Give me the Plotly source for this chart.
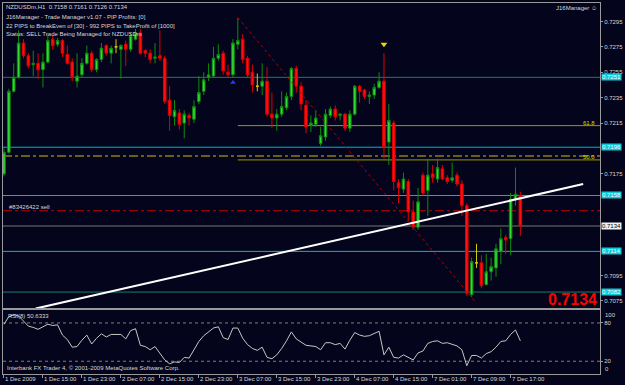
import plotly.graph_objects as go

# ---------------- data (NZDUSDm, H1) ----------------
opens = [0.7175,0.7192,0.7240,0.7251,0.7278,0.7268,0.7261,0.7262,0.7257,0.7263,
         0.7281,0.7277,0.7280,0.7269,0.7263,0.7248,0.7253,0.7262,0.7270,0.7257,
         0.7265,0.7276,0.7270,0.7275,0.7273,0.7277,0.7273,0.7281,0.7286,0.7272,
         0.7270,0.7266,0.7268,0.7266,0.7233,0.7220,0.7223,0.7215,0.7221,0.7218,
         0.7232,0.7240,0.7251,0.7252,0.7266,0.7270,0.7255,0.7253,0.7277,0.7281,
         0.7266,0.7255,0.7244,0.7244,0.7248,0.7222,0.7219,0.7222,0.7227,0.7236,
         0.7258,0.7244,0.7229,0.7213,0.7214,0.7199,0.7204,0.7221,0.7226,0.7221,
         0.7222,0.7211,0.7222,0.7244,0.7241,0.7236,0.7237,0.7243,0.7248,0.7200,
         0.7215,0.7168,0.7163,0.7169,0.7145,0.7133,0.7174,0.7162,0.7175,0.7171,
         0.7179,0.7172,0.7170,0.7174,0.7167,0.7150,0.7080,0.7105,0.7105,0.7088,
         0.7098,0.7101,0.7114,0.7125,0.7124,0.7155,0.7158]
highs = [0.7195,0.7242,0.7262,0.7288,0.7281,0.7270,0.7272,0.7270,0.7270,0.7285,
         0.7284,0.7282,0.7281,0.7276,0.7266,0.7270,0.7266,0.7276,0.7272,0.7266,
         0.7278,0.7277,0.7276,0.7281,0.7277,0.7280,0.7286,0.7289,0.7289,0.7273,
         0.7273,0.7278,0.7288,0.7268,0.7244,0.7233,0.7226,0.7225,0.7223,0.7233,
         0.7252,0.7255,0.7262,0.7275,0.7277,0.7272,0.7261,0.7281,0.7298,0.7285,
         0.7268,0.7261,0.7254,0.7262,0.7259,0.7239,0.7226,0.7240,0.7239,0.7259,
         0.7260,0.7247,0.7233,0.7221,0.7225,0.7212,0.7226,0.7228,0.7229,0.7223,
         0.7223,0.7225,0.7245,0.7245,0.7242,0.7240,0.7246,0.7255,0.7270,0.7230,
         0.7217,0.7171,0.7176,0.7171,0.7154,0.7164,0.7176,0.7187,0.7182,0.7187,
         0.7182,0.7174,0.7184,0.7176,0.7170,0.7152,0.7109,0.7120,0.7111,0.7112,
         0.7109,0.7120,0.7132,0.7127,0.7160,0.7180,0.7161]
lows = [0.7173,0.7191,0.7239,0.7250,0.7266,0.7258,0.7252,0.7250,0.7243,0.7262,
        0.7273,0.7275,0.7267,0.7261,0.7248,0.7243,0.7251,0.7261,0.7255,0.7255,
        0.7263,0.7268,0.7262,0.7270,0.7250,0.7260,0.7271,0.7280,0.7269,0.7267,
        0.7262,0.7262,0.7264,0.7230,0.7209,0.7213,0.7210,0.7203,0.7213,0.7215,
        0.7230,0.7237,0.7248,0.7251,0.7264,0.7253,0.7251,0.7251,0.7273,0.7262,
        0.7251,0.7239,0.7240,0.7237,0.7220,0.7211,0.7209,0.7220,0.7225,0.7233,
        0.7239,0.7225,0.7207,0.7208,0.7212,0.7197,0.7201,0.7219,0.7217,0.7217,
        0.7209,0.7208,0.7221,0.7231,0.7234,0.7230,0.7234,0.7242,0.7187,0.7182,
        0.7162,0.7152,0.7160,0.7138,0.7131,0.7131,0.7158,0.7142,0.7168,0.7168,
        0.7170,0.7167,0.7168,0.7165,0.7142,0.7079,0.7078,0.7101,0.7085,0.7087,
        0.7091,0.7094,0.7104,0.7112,0.7111,0.7150,0.7126]
closes = [0.7192,0.7240,0.7251,0.7278,0.7268,0.7260,0.7262,0.7257,0.7263,0.7280,
          0.7276,0.7280,0.7270,0.7262,0.7251,0.7252,0.7262,0.7270,0.7257,0.7265,
          0.7274,0.7270,0.7274,0.7275,0.7276,0.7273,0.7284,0.7286,0.7270,0.7270,
          0.7265,0.7267,0.7266,0.7232,0.7221,0.7225,0.7214,0.7222,0.7219,0.7228,
          0.7239,0.7249,0.7253,0.7266,0.7269,0.7256,0.7253,0.7278,0.7280,0.7265,
          0.7253,0.7245,0.7244,0.7248,0.7222,0.7219,0.7222,0.7228,0.7236,0.7258,
          0.7244,0.7230,0.7212,0.7215,0.7219,0.7205,0.7222,0.7226,0.7220,0.7222,
          0.7211,0.7222,0.7244,0.7240,0.7236,0.7237,0.7243,0.7248,0.7196,0.7217,
          0.7169,0.7164,0.7171,0.7145,0.7133,0.7153,0.7160,0.7174,0.7172,0.7180,
          0.7171,0.7169,0.7172,0.7167,0.7150,0.7081,0.7106,0.7105,0.7087,0.7098,
          0.7102,0.7116,0.7124,0.7123,0.7155,0.7159,0.7134]
rsi = [78,90,93,91,83,75,73,70,74,78,76,77,61,54,42,43,53,61,47,56,
       63,58,62,62,62,55,68,71,45,43,38,43,33,22,16,19,18,26,25,38,
       51,60,66,72,74,57,54,72,72,56,46,40,37,42,26,24,30,40,52,66,
       55,50,45,44,43,38,49,49,46,48,39,53,65,61,59,60,63,67,30,42,
       26,25,30,26,22,33,36,48,51,52,48,49,47,44,38,13,29,29,25,32,
       35,42,51,52,62,69,52]

time_label_idx = [0, 8, 16, 24, 32, 40, 48, 56, 64, 72, 80, 88, 96, 104]
time_labels = ["1 Dec 2009", "1 Dec 15:00", "1 Dec 23:00", "2 Dec 07:00", "2 Dec 15:00",
               "2 Dec 23:00", "3 Dec 07:00", "3 Dec 15:00", "3 Dec 23:00", "4 Dec 07:00",
               "4 Dec 15:00", "7 Dec 01:00", "7 Dec 09:00", "7 Dec 17:00"]
# visible price-scale labels (the others are hidden under the level boxes)
price_ticks = [0.7075, 0.7095, 0.7175, 0.7215, 0.7235, 0.7255, 0.7275, 0.7295]

box_levels = [0.7251, 0.7196, 0.7158, 0.7114, 0.7082]
box_line_colors = ["#14806a", "#00b8c8", "#00b8c8", "#00b8c8", "#14806a"]
bid_price = 0.7134
order_price = 0.7146
order_label = "#83426422 sell"
pivot_price = 0.7189
fib_levels = [0.7213, 0.7186]
fib_names = ["61.8", "50.0"]
fib_start_idx = 48
fib_diag_x = [48, 96.8]
fib_diag_y = [0.7298, 0.7074]
trend_x = [6.5, 118.9]
trend_y = [0.7069, 0.7167]
sell_arrow_idx = [78]
sell_arrow_price = [0.7277]
buy_arrow_idx = [47]
buy_arrow_price = [0.7247]
rsi_levels = [20, 80]
rsi_label = "RSI(8) 50.6333"

header_lines = ["NZDUSDm,H1  0.7158 0.7161 0.7126 0.7134",
                "J16Manager - Trade Manager v1.07 - PIP Profits: [0]",
                "22 PIPS to BreakEven of [30] - 992 PIPS to TakeProfit of [1000]",
                "Status: SELL Trade Being Managed for NZDUSDm"]

# ---------------- figure ----------------
BG = "#04041c"
FONT = "Liberation Sans, Arial"
TXT = "#d8d8d8"
FS = 6
n = len(opens)
idx = list(range(n))
doji = [o == c for o, c in zip(opens, closes)]
nd = [i for i in idx if not doji[i]]
dj = [i for i in idx if doji[i]]

fig = go.Figure()
fig.add_trace(go.Candlestick(
    x=nd, open=[opens[i] for i in nd], high=[highs[i] for i in nd],
    low=[lows[i] for i in nd], close=[closes[i] for i in nd],
    increasing=dict(line=dict(color="#0c8c0c", width=1), fillcolor="#36d836"),
    decreasing=dict(line=dict(color="#e00000", width=1), fillcolor="#ff1010"),
    whiskerwidth=0, hoverinfo="skip", showlegend=False, xaxis="x", yaxis="y"))
fig.add_trace(go.Candlestick(
    x=dj, open=[opens[i] for i in dj], high=[highs[i] for i in dj],
    low=[lows[i] for i in dj], close=[closes[i] for i in dj],
    increasing=dict(line=dict(color="#d8c800", width=1), fillcolor="#d8c800"),
    decreasing=dict(line=dict(color="#d8c800", width=1), fillcolor="#d8c800"),
    whiskerwidth=0, hoverinfo="skip", showlegend=False, xaxis="x", yaxis="y"))

fig.add_trace(go.Scatter(x=trend_x, y=trend_y, mode="lines",
                         line=dict(color="#ffffff", width=2), hoverinfo="skip",
                         showlegend=False, xaxis="x", yaxis="y"))
fig.add_trace(go.Scatter(x=fib_diag_x, y=fib_diag_y, mode="lines",
                         line=dict(color="#b00000", width=1, dash="dot"), hoverinfo="skip",
                         showlegend=False, xaxis="x", yaxis="y"))
fig.add_trace(go.Scatter(x=sell_arrow_idx, y=sell_arrow_price, mode="markers",
                         marker=dict(symbol="triangle-down", size=6, color="#e8d800"),
                         hoverinfo="skip", showlegend=False, xaxis="x", yaxis="y"))
fig.add_trace(go.Scatter(x=buy_arrow_idx, y=buy_arrow_price, mode="markers",
                         marker=dict(symbol="triangle-up", size=5, color="#2040ff"),
                         hoverinfo="skip", showlegend=False, xaxis="x", yaxis="y"))

fig.add_trace(go.Scatter(x=idx, y=rsi, mode="lines", line=dict(color="#c8c8c0", width=1),
                         hoverinfo="skip", showlegend=False, xaxis="x2", yaxis="y2"))

shapes = []
for p, c in zip(box_levels, box_line_colors):
    shapes.append(dict(type="line", xref="paper", yref="y", x0=0, x1=1, y0=p, y1=p,
                       line=dict(color=c, width=1), layer="below"))
shapes.append(dict(type="line", xref="paper", yref="y", x0=0, x1=1, y0=bid_price, y1=bid_price,
                   line=dict(color="#505050", width=1.5), layer="below"))
shapes.append(dict(type="line", xref="paper", yref="y", x0=0, x1=1, y0=order_price, y1=order_price,
                   line=dict(color="#c00000", width=1, dash="dashdot"), layer="below"))
shapes.append(dict(type="line", xref="paper", yref="y", x0=0, x1=1, y0=pivot_price, y1=pivot_price,
                   line=dict(color="#8c7c18", width=1.5, dash="dashdot"), layer="below"))
for p in fib_levels:
    shapes.append(dict(type="line", xref="x", yref="y", x0=fib_start_idx, x1=1000, y0=p, y1=p,
                       line=dict(color="#9a9a00", width=1), layer="below"))
for p in rsi_levels:
    shapes.append(dict(type="line", xref="paper", yref="y2", x0=0, x1=1, y0=p, y1=p,
                       line=dict(color="#808080", width=1, dash="dot"), layer="below"))

ann = []
for t, i in zip(time_labels, time_label_idx):
    ann.append(dict(x=i, y=0, xref="x2", yref="paper", text=t, showarrow=False,
                    xanchor="left", yanchor="top", yshift=0, xshift=-1,
                    font=dict(family=FONT, size=FS, color=TXT)))
hy = [0.9892, 0.9624, 0.9382, 0.9167]
for t, yy in zip(header_lines, hy):
    ann.append(dict(x=0, y=yy, xref="paper", yref="paper", text=t, showarrow=False,
                    xanchor="left", yanchor="middle", xshift=1,
                    font=dict(family=FONT, size=FS, color=TXT)))
ann.append(dict(x=1, y=0.9865, xref="paper", yref="paper", text="J16Manager ☺", showarrow=False,
                xanchor="right", yanchor="middle", xshift=-1,
                font=dict(family=FONT, size=FS, color=TXT)))
for p in box_levels:
    ann.append(dict(x=1, y=p, xref="paper", yref="y", text=f"{p:.4f}", showarrow=False,
                    xanchor="left", yanchor="middle", xshift=1, bgcolor="#10c8d8", borderpad=0,
                    font=dict(family=FONT, size=FS, color="#ffffff")))
ann.append(dict(x=1, y=bid_price, xref="paper", yref="y", text=f"{bid_price:.4f}", showarrow=False,
                xanchor="left", yanchor="middle", xshift=1, bgcolor="#f0f0f0", borderpad=0,
                font=dict(family=FONT, size=FS, color="#000000")))
for p, nm in zip(fib_levels, fib_names):
    ann.append(dict(x=1, y=p, xref="paper", yref="y", text=nm, showarrow=False,
                    xanchor="right", yanchor="bottom", xshift=-3, yshift=-2,
                    font=dict(family=FONT, size=FS, color="#d8d800")))
ann.append(dict(x=0, y=order_price, xref="paper", yref="y", text=order_label, showarrow=False,
                xanchor="left", yanchor="bottom", xshift=4, yshift=-1,
                font=dict(family=FONT, size=FS, color=TXT)))
ann.append(dict(x=1, y=0.2016, xref="paper", yref="paper", text=f"<b>{closes[-1]:.4f}</b>", showarrow=False,
                xanchor="right", yanchor="middle", xshift=-1,
                font=dict(family="Liberation Sans, Arial", size=16, color="#ff0000")))
ann.append(dict(x=0, y=100, xref="paper", yref="y2", text=rsi_label, showarrow=False,
                xanchor="left", yanchor="top", xshift=3, yshift=-1,
                font=dict(family=FONT, size=FS, color=TXT)))
ann.append(dict(x=0, y=0, xref="paper", yref="y2", text="Interbank FX Trader 4, © 2001-2009 MetaQuotes Software Corp.",
                showarrow=False, xanchor="left", yanchor="bottom", xshift=2, yshift=1,
                font=dict(family=FONT, size=FS, color=TXT)))
ann.append(dict(x=1, y=100, xref="paper", yref="y2", text="100", showarrow=False,
                xanchor="left", yanchor="top", xshift=3,
                font=dict(family=FONT, size=FS, color=TXT)))
ann.append(dict(x=1, y=0, xref="paper", yref="y2", text="0", showarrow=False,
                xanchor="left", yanchor="bottom", xshift=3,
                font=dict(family=FONT, size=FS, color=TXT)))

xr = [-0.204, 122.35]
fig.update_layout(
    width=625, height=385, margin=dict(l=2, r=23, t=2, b=11),
    paper_bgcolor=BG, plot_bgcolor=BG, showlegend=False, boxgap=0.25,
    shapes=shapes, annotations=ann, hovermode=False,
    xaxis=dict(domain=[0, 1], range=xr, anchor="y", showticklabels=False, showgrid=False,
               zeroline=False, showline=True, mirror=True, linecolor="#9a9a9a", linewidth=1,
               rangeslider=dict(visible=False), ticks=""),
    yaxis=dict(domain=[0.1774, 1], range=[0.70693, 0.73095], side="right", anchor="x",
               tickvals=price_ticks, ticktext=[f"{v:.4f}" for v in price_ticks],
               ticks="outside", ticklen=2, tickcolor="#9a9a9a",
               tickfont=dict(family=FONT, size=FS, color=TXT),
               showgrid=False, zeroline=False, showline=True, mirror=True,
               linecolor="#9a9a9a", linewidth=1),
    xaxis2=dict(domain=[0, 1], range=xr, anchor="y2", matches="x", showticklabels=False,
                showgrid=False, zeroline=False, showline=True, mirror=True, linecolor="#9a9a9a",
                tickvals=time_label_idx, ticks="outside", ticklen=3, tickcolor="#9a9a9a",
                rangeslider=dict(visible=False)),
    yaxis2=dict(domain=[0, 0.172], range=[0, 100], side="right", anchor="x2",
                tickvals=rsi_levels, ticktext=[str(v) for v in rsi_levels],
                ticks="outside", ticklen=2, tickcolor="#9a9a9a",
                tickfont=dict(family=FONT, size=FS, color=TXT),
                showgrid=False, zeroline=False, showline=True, mirror=True,
                linecolor="#9a9a9a", linewidth=1),
)
fig.write_html("out.html")
